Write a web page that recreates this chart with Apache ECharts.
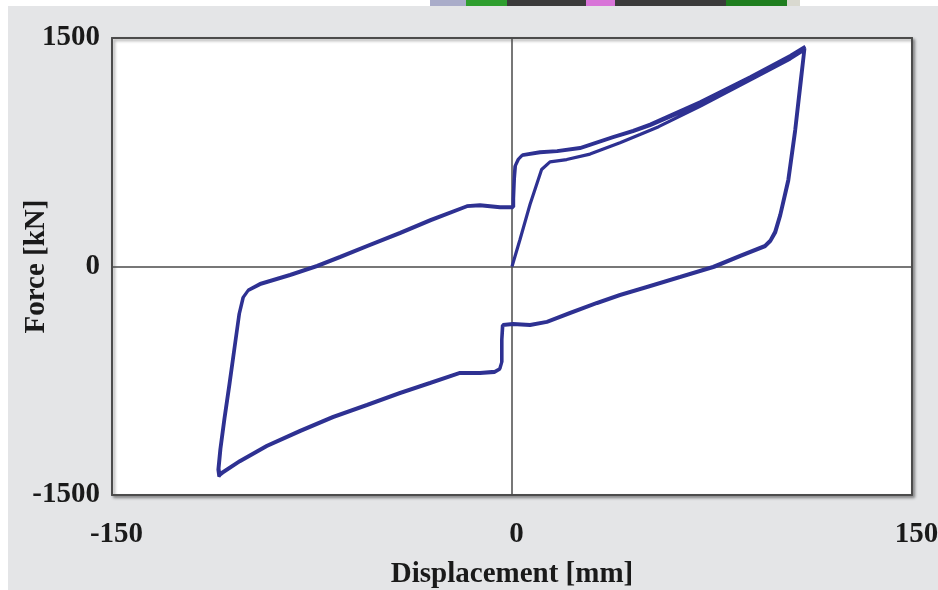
<!DOCTYPE html>
<html><head><meta charset="utf-8">
<script src="https://cdn.jsdelivr.net/npm/echarts@6/dist/echarts.min.js"></script>
<style>html,body{margin:0;padding:0;background:#fff}#c{width:938px;height:590px}</style>
</head><body><div id="c"></div>
<script>
// Tick values
const xTicks = [-150, 0, 150];
const yTicks = [-1500, 0, 1500];
const xTitle = 'Displacement [mm]';
const yTitle = 'Force [kN]';

// Initial loading from origin up to first peak: [displacement mm, force kN]
const initialLoading = [
  [0,0],[3,177],[6.75,407],[11.1,637],[14.25,687],[20.5,702],[29.25,738],[40.5,812],[48,866],
  [55,918],[70.5,1052],[89.3,1224],[104.3,1362],[109.5,1420]
];
// Cycle 1: unloading, negative excursion, reloading
const cycle1 = [
  [109.5,1420],[108.2,1228],[106.1,899],[103.5,571],[100.5,341],[98.6,230],[96.8,171],[94.9,138],
  [85.5,72],[75.4,0],[63,-66],[50.6,-131],[40.5,-184],[31.9,-236],[21.75,-302],[13.1,-361],
  [6.75,-381],[0.4,-374],[-3.4,-381],[-3.75,-479],[-3.75,-624],[-4.5,-670],[-6.4,-689],[-12,-696],
  [-19.5,-696],[-30.75,-762],[-42,-827],[-54.4,-906],[-67.1,-985],[-79.5,-1077],[-91.9,-1175],
  [-102,-1274],[-108.75,-1352],[-109.9,-1379],[-110.25,-1333],[-109.5,-1201],[-108,-1004],
  [-106.1,-775],[-104.25,-545],[-102.4,-315],[-100.9,-204],[-99,-158],[-94.5,-118],[-83.25,-59],
  [-73.1,0],[-64.5,59],[-54.4,131],[-42,217],[-30.4,302],[-16.9,394],[-12,400],[-4.5,387],
  [0.4,387],[0.4,440],[0.75,571],[1.1,657],[2.25,702],[3.75,729],[10.5,748],[16.9,755],
  [25.5,775],[37.9,847],[45.4,886],[51.8,925],[70.5,1066],[89.3,1232],[104.3,1372],[109.8,1432]
];
// Cycle 2: second loop, nearly overlapping
const cycle2 = [
  [109.8,1432],[108.4,1210],[106.3,890],[103.7,560],[100.7,335],[98.8,222],[96.9,165],[95,132],
  [85.5,66],[75.8,-5],[63,-72],[50.6,-138],[40.5,-190],[31.9,-242],[21.75,-308],[13.1,-366],
  [6.75,-386],[0.4,-380],[-3.6,-386],[-3.9,-485],[-3.9,-630],[-4.7,-676],[-6.6,-695],[-12,-702],
  [-19.5,-700],[-30.75,-768],[-42,-833],[-54.4,-912],[-67.1,-991],[-79.5,-1083],[-91.9,-1181],
  [-102,-1280],[-108.5,-1355],[-109.6,-1370],[-109.9,-1325],[-109.2,-1195],[-107.7,-998],
  [-105.8,-770],[-104,-540],[-102.2,-310],[-100.7,-200],[-98.8,-153],[-94.5,-112],[-83.25,-53],
  [-73.1,6],[-64.5,65],[-54.4,137],[-42,223],[-30.4,308],[-16.9,398],[-12,404],[-4.5,391],
  [0.6,391],[0.6,445],[0.9,575],[1.3,662],[2.5,707],[4,733],[10.5,752],[16.9,760],
  [25.5,780],[37.9,852],[45.4,893],[51.8,934],[70.5,1080],[89.3,1244],[104.3,1384],[110,1445]
];

const loop = initialLoading.concat(cycle1.slice(1), cycle2.slice(1));

const chart = echarts.init(document.getElementById('c'), null, {renderer: 'canvas'});
const font = '"Liberation Serif", "Times New Roman", serif';
const axisColor = '#4a4a4a';
const fs = 29;
chart.setOption({
  backgroundColor: '#ffffff',
  animation: false,
  graphic: [
    {type: 'rect', left: 8, top: 6, shape: {width: 930, height: 584}, style: {fill: '#e4e5e7'}, z: -10},
    {type: 'rect', left: 430, top: 0, shape: {width: 36, height: 6}, style: {fill: '#a9acc9'}, z: -9},
    {type: 'rect', left: 466, top: 0, shape: {width: 41, height: 6}, style: {fill: '#2f9e2f'}, z: -9},
    {type: 'rect', left: 507, top: 0, shape: {width: 79, height: 6}, style: {fill: '#3b3b3b'}, z: -9},
    {type: 'rect', left: 586, top: 0, shape: {width: 29, height: 6}, style: {fill: '#d874d8'}, z: -9},
    {type: 'rect', left: 615, top: 0, shape: {width: 111, height: 6}, style: {fill: '#3b3b3b'}, z: -9},
    {type: 'rect', left: 726, top: 0, shape: {width: 61, height: 6}, style: {fill: '#1f7e1f'}, z: -9},
    {type: 'rect', left: 787, top: 0, shape: {width: 13, height: 6}, style: {fill: '#d9d9d0'}, z: -9}
  ],
  grid: {
    left: 112, right: 26, top: 38, bottom: 95,
    containLabel: false, outerBoundsMode: 'none',
    show: true, backgroundColor: '#ffffff', borderColor: '#555555', borderWidth: 2,
    shadowColor: 'rgba(0,0,0,0.35)', shadowBlur: 3, shadowOffsetX: 2, shadowOffsetY: 2
  },
  xAxis: {
    type: 'value', min: xTicks[0], max: xTicks[2], interval: 150,
    name: xTitle, nameLocation: 'middle', nameGap: 65, nameMoveOverlap: false,
    nameTextStyle: {fontFamily: font, fontWeight: 'bold', fontSize: fs, color: '#1a1a1a'},
    axisLine: {show: false}, axisTick: {show: false},
    axisLabel: {margin: 25, fontFamily: font, fontWeight: 'bold', fontSize: fs, color: '#1a1a1a',
      padding: [0, 0, 0, 9], formatter: v => String(v)},
    splitLine: {show: true, lineStyle: {color: axisColor, width: 1.5}}
  },
  yAxis: {
    type: 'value', min: yTicks[0], max: yTicks[2], interval: 1500,
    name: yTitle, nameLocation: 'middle', nameGap: 61, nameRotate: 90, nameMoveOverlap: false,
    nameTextStyle: {fontFamily: font, fontWeight: 'bold', fontSize: fs, color: '#1a1a1a'},
    axisLine: {show: false}, axisTick: {show: false},
    axisLabel: {margin: 12, fontFamily: font, fontWeight: 'bold', fontSize: fs, color: '#1a1a1a',
      padding: [9, 0, 0, 0], formatter: v => String(v)},
    splitLine: {show: true, lineStyle: {color: axisColor, width: 1.5}}
  },
  series: [{
    type: 'line', data: loop, showSymbol: false, symbol: 'none', smooth: false,
    lineStyle: {color: '#2e3192', width: 3.2}, z: 5
  }]
});
</script></body></html>
